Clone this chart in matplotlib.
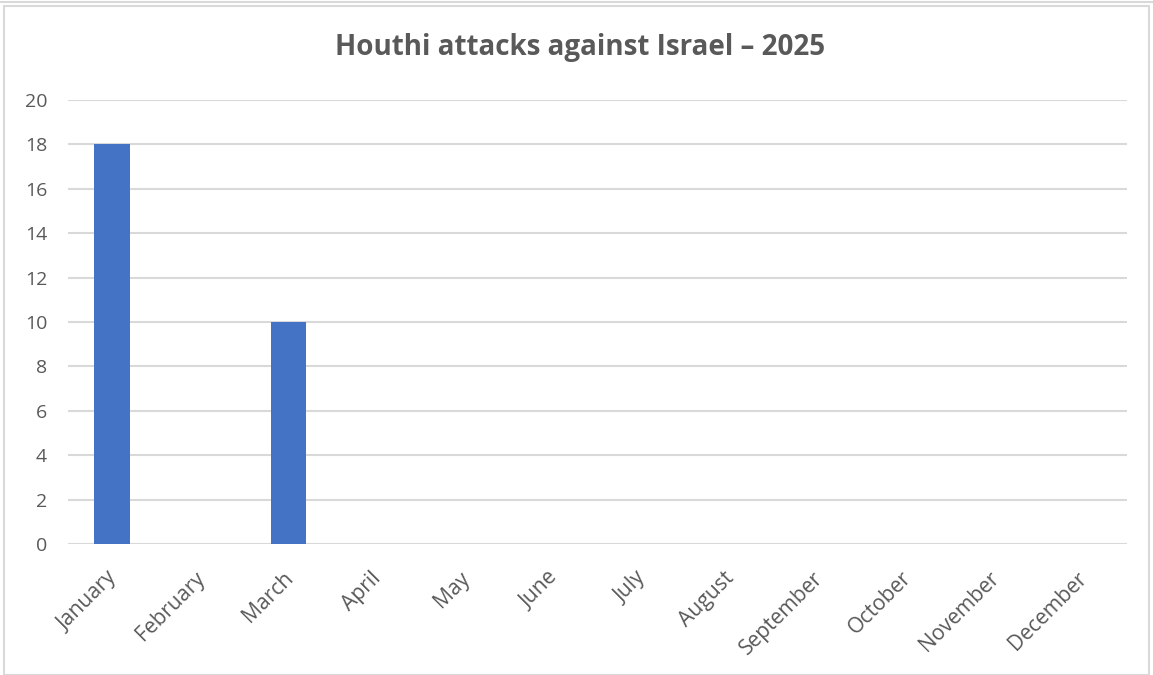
import matplotlib
matplotlib.use("Agg")
import matplotlib.pyplot as plt
from matplotlib.patches import Rectangle
from matplotlib.transforms import ScaledTranslation

months = ["January", "February", "March", "April", "May", "June", "July",
          "August", "September", "October", "November", "December"]
attacks = [18, 0, 10, 0, 0, 0, 0, 0, 0, 0, 0, 0]
yticks = [0, 2, 4, 6, 8, 10, 12, 14, 16, 18, 20]
title = "Houthi attacks against Israel \u2013 2025"

plt.rcParams['font.family'] = ['Open Sans', 'DejaVu Sans']

fig = plt.figure(figsize=(11.53, 6.75), dpi=100)
fig.patch.set_facecolor("white")
# outer chart frame
fig.patches.append(Rectangle((4/1153, 0.0), 1 - 8/1153, 1 - 6/675,
                             transform=fig.transFigure, fill=False,
                             edgecolor="#d9d9d9", linewidth=1.5))
fig.add_artist(plt.Line2D([0, 1], [1 - 1.5/675, 1 - 1.5/675], transform=fig.transFigure,
                          color="#d9d9d9", linewidth=1.5))

ax = fig.add_axes([68/1153, 1 - 544/675, (1127 - 68)/1153, (544 - 100)/675])
x = list(range(len(months)))
ax.bar(x, attacks, width=0.4, color="#4472c4", zorder=3)
ax.set_xlim(-0.5, len(months) - 0.5)
ax.set_ylim(0, 20)
ax.set_yticks(yticks)
ax.set_yticklabels([str(v) for v in yticks], fontsize=14, color="#595959")
ax.set_xticks(x)
ax.set_xticklabels(months, rotation=45, ha="right", rotation_mode="anchor",
                   fontsize=15.2, color="#595959")
ax.tick_params(axis="both", length=0)
ax.tick_params(axis="y", pad=15)
ax.tick_params(axis="x", pad=14)
off = ScaledTranslation(-6/100, -4/100, fig.dpi_scale_trans)
for lab in ax.get_xticklabels():
    lab.set_transform(lab.get_transform() + off)
ax.grid(axis="y", color="#d9d9d9", linewidth=1.5, zorder=0)
for s in ax.spines.values():
    s.set_visible(False)
fig.text(580/1153, 1 - 47/675, title, fontsize=20, fontweight="bold",
         color="#595959", ha="center", va="center")

fig.savefig("out.png", dpi=100)
